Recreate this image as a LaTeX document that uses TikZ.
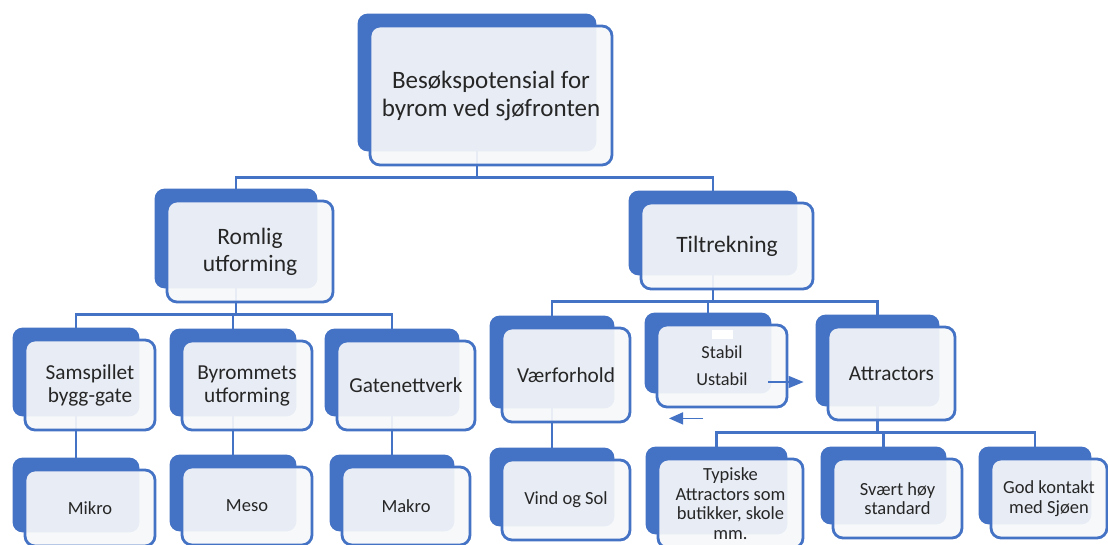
\documentclass[tikz,border=0pt]{standalone}
\usepackage{fontspec}
\setmainfont{Carlito}
\usetikzlibrary{arrows.meta}

\definecolor{cardblue}{HTML}{4472C4}
\definecolor{cardface}{RGB}{246,247,249}
\definecolor{inktext}{RGB}{38,38,38}

\pgfdeclarelayer{bus}
\pgfdeclarelayer{cards}
\pgfsetlayers{bus,cards,main}

\begin{document}
\begin{tikzpicture}[x=1pt,y=-1pt,
    card/.style={draw=cardblue, line width=2.8pt, rounded corners=10pt,
      fill=cardface, fill opacity=0.92, text opacity=1, text=inktext,
      inner sep=0pt, align=center},
    big/.style={font=\fontsize{25}{28}\selectfont},
    mid/.style={font=\fontsize{23.5}{27}\selectfont},
    sub/.style={font=\fontsize{21.3}{23}\selectfont},
    leaf/.style={font=\fontsize{18.5}{19.5}\selectfont}]
  \useasboundingbox (0,0) rectangle (1108,545);

  % top
  \node[card,big,minimum width=242pt,minimum height=139pt] (top) at (491,95.5)
    {Besøkspotensial for\\byrom ved sjøfronten};

  % second row
  \node[card,mid,minimum width=166pt,minimum height=101pt] (romlig) at (250,251.5)
    {Romlig\\utforming};
  \node[card,mid,minimum width=172pt,minimum height=86pt] (tiltrekning) at (727,246)
    {Tiltrekning};

  % third row
  \node[card,sub,minimum width=130pt,minimum height=90pt] (samspillet) at (90,385)
    {Samspillet\\bygg-gate};
  \node[card,sub,minimum width=130pt,minimum height=89pt] (byrommets) at (247,385.5)
    {Byrommets\\utforming};
  \node[card,sub,minimum width=138pt,minimum height=89pt] (gatenettverk) at (406,385.5)
    {Gatenettverk};
  \node[card,sub,minimum width=128pt,minimum height=94pt] (vaerforhold) at (566,375)
    {Værforhold};
  \node[card,font=\fontsize{18.3}{27}\selectfont,minimum width=130pt,minimum height=82pt]
    (stabil) at (722,366) {Stabil\\Ustabil};
  \node[card,sub,minimum width=127pt,minimum height=93pt] (attractors) at (891.5,373.5)
    {Attractors};

  % bottom row
  \node[card,leaf,minimum width=130pt,minimum height=76pt] (mikro) at (90,508) {Mikro};
  \node[card,leaf,minimum width=130pt,minimum height=78pt] (meso) at (247,506) {Meso};
  \node[card,leaf,minimum width=128pt,minimum height=78pt] (makro) at (406,506) {Makro};
  \node[card,leaf,minimum width=128pt,minimum height=80pt] (vind) at (566,500) {Vind og Sol};
  \node[card,leaf,minimum width=145pt,minimum height=89pt] (typiske) at (730.5,503.5)
    {Typiske\\Attractors som\\butikker, skole\\mm.};
  \node[card,leaf,minimum width=129pt,minimum height=79pt] (svaert) at (897.5,498.5)
    {Svært høy\\standard};
  \node[card,leaf,minimum width=116pt,minimum height=79pt] (god) at (1049,498.5)
    {God kontakt\\med Sjøen};

  % blue cards behind
  \begin{pgfonlayer}{cards}
    \foreach \n in {top,romlig,tiltrekning,samspillet,byrommets,gatenettverk,
        vaerforhold,stabil,attractors,mikro,meso,makro,vind,typiske,svaert,god}
      \fill[cardblue,rounded corners=10pt] ([shift={(-11pt,11pt)}]\n.north west)
        rectangle ([shift={(-17pt,15pt)}]\n.south east);
  \end{pgfonlayer}

  % tree lines
  \begin{pgfonlayer}{bus}
    \foreach \p/\kids in {top/{romlig,tiltrekning},
        romlig/{samspillet,byrommets,gatenettverk},
        tiltrekning/{vaerforhold,stabil,attractors},
        attractors/{typiske,svaert,god},
        samspillet/{mikro}, byrommets/{meso}, gatenettverk/{makro}, vaerforhold/{vind}}
      \foreach \c in \kids
        \draw[cardblue,line width=2.8pt] ([xshift=-14pt]\c.center)
          |- ([shift={(-14pt,-11pt)}]\p.south) -- ([xshift=-14pt]\p.center);
  \end{pgfonlayer}

  \fill[white] ([shift={(-10pt,-6pt)}]stabil.north) rectangle ++(21pt,-9pt);

  % arrows
  \draw[cardblue,line width=1.5pt,-{Triangle[length=15pt,width=12pt]}]
    ([shift={(-20pt,-16pt)}]stabil.east) -- ([shift={(-23pt,-8.5pt)}]attractors.west);
  \draw[cardblue,line width=1.5pt,-{Triangle[length=14pt,width=12pt]}]
    ([shift={(-19pt,-10pt)}]stabil.south) -- ([shift={(-53pt,-10pt)}]stabil.south);
\end{tikzpicture}
\end{document}
